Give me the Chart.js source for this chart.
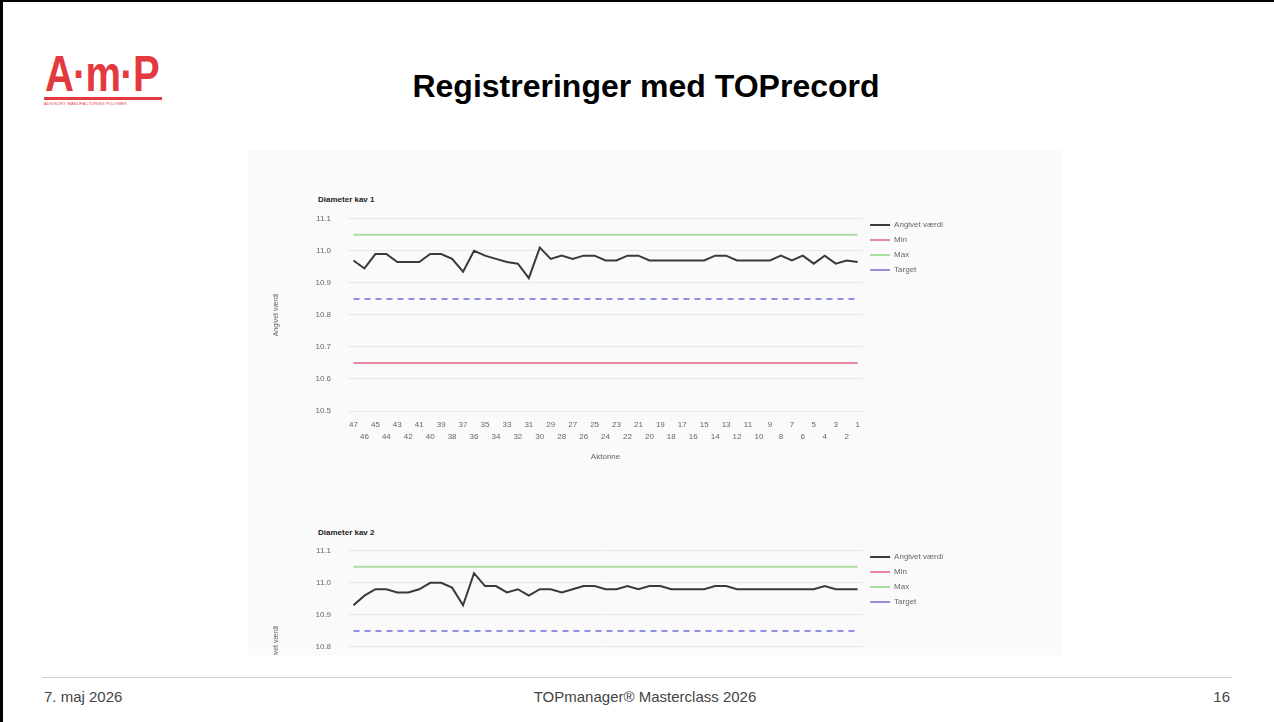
<!DOCTYPE html>
<html>
<head>
<meta charset="utf-8">
<script src="https://cdn.jsdelivr.net/npm/chart.js@4"></script>
<style>
html, body { margin: 0; padding: 0; background: #fff; }
body { width: 1274px; height: 722px; position: relative; overflow: hidden; font-family: "Liberation Sans", Arial, sans-serif; }
.frame { position: absolute; left: 0; top: 0; width: 1274px; height: 722px; border-left: 3px solid #000; border-top: 2px solid #000; box-sizing: border-box; }
.logo { position: absolute; left: 44px; top: 48px; width: 130px; height: 62px; color: #e23a3f; }
.logo .mark { position: absolute; left: 1px; top: 0; font-weight: bold; font-size: 50px; line-height: 52px; letter-spacing: -1px; transform: scaleX(0.8); transform-origin: left top; white-space: nowrap; }
.logo .bar { position: absolute; left: 0; top: 49px; width: 118px; height: 3px; background: #e23a3f; }
.logo .sub { position: absolute; left: 0; top: 53px; font-size: 4px; white-space: nowrap; letter-spacing: 0.2px; }
h1 { position: absolute; left: 0; width: 1292px; top: 68px; margin: 0; text-align: center; font-size: 32px; line-height: 37px; font-weight: bold; color: #000; }
.shot { position: absolute; left: 248px; top: 150px; width: 814px; height: 505px; background: #fafafa; overflow: hidden; }
.ctitle { position: absolute; font-size: 8px; font-weight: bold; color: #222; }
.chartbox { position: absolute; overflow: hidden; }
.foot-line { position: absolute; left: 42px; top: 677px; width: 1190px; height: 1px; background: #cfcfcf; }
.foot { position: absolute; top: 688px; font-size: 15px; color: #444; font-family: "Liberation Sans Narrow", "Liberation Sans", sans-serif; }
</style>
</head>
<body>
<div class="frame"></div>
<div class="logo">
  <div class="mark">A·m·P</div>
  <div class="bar"></div>
  <div class="sub">ADVISORY MANUFACTURING POLYMER</div>
</div>
<h1>Registreringer med TOPrecord</h1>

<div class="shot">
  <div class="ctitle" style="left:70px; top:45px;">Diameter kav 1</div>
  <div class="chartbox" style="left:17px; top:60px; width:700px; height:260px;">
    <canvas id="kav1" width="700" height="260"></canvas>
  </div>
  <div class="ctitle" style="left:70px; top:378px;">Diameter kav 2</div>
  <div class="chartbox" style="left:17px; top:392px; width:700px; height:113px;">
    <canvas id="kav2" width="700" height="260"></canvas>
  </div>
</div>

<div class="foot-line"></div>
<div class="foot" style="left:44px;">7. maj 2026</div>
<div class="foot" style="left:0; width:1290px; text-align:center;">TOPmanager® Masterclass 2026</div>
<div class="foot" style="right:44px;">16</div>

<script>
// x-akse: kolonner (47 ned til 1)
const kolonner = ['47','46','45','44','43','42','41','40','39','38','37','36','35','34','33','32','31','30',
  '29','28','27','26','25','24','23','22','21','20','19','18','17','16','15','14','13','12','11','10',
  '9','8','7','6','5','4','3','2','1'];

// Angivet værdi, kav 1
const kav1Values = [10.97, 10.945, 10.99, 10.99, 10.965, 10.965, 10.965, 10.99, 10.99, 10.975,
  10.935, 11.0, 10.985, 10.975, 10.965, 10.96, 10.915, 11.01, 10.975, 10.985,
  10.975, 10.985, 10.985, 10.97, 10.97, 10.985, 10.985, 10.97, 10.97, 10.97,
  10.97, 10.97, 10.97, 10.985, 10.985, 10.97, 10.97, 10.97, 10.97, 10.985,
  10.97, 10.985, 10.96, 10.985, 10.96, 10.97, 10.965];

// Angivet værdi, kav 2
const kav2Values = [10.93, 10.96, 10.98, 10.98, 10.97, 10.97, 10.98, 11.0, 11.0, 10.985,
  10.93, 11.03, 10.99, 10.99, 10.97, 10.98, 10.96, 10.98, 10.98, 10.97,
  10.98, 10.99, 10.99, 10.98, 10.98, 10.99, 10.98, 10.99, 10.99, 10.98,
  10.98, 10.98, 10.98, 10.99, 10.99, 10.98, 10.98, 10.98, 10.98, 10.98,
  10.98, 10.98, 10.98, 10.99, 10.98, 10.98, 10.98];

// grænser: Min, Max, Target
const limitNames = ['Min', 'Max', 'Target'];
const kav1Limits = [10.65, 11.05, 10.85];
const kav2Limits = [10.65, 11.05, 10.85];

const yMin = 10.5, yMax = 11.1, yStep = 0.1;

Chart.defaults.font.family = '"Liberation Sans", Arial, sans-serif';
Chart.defaults.color = '#666';

const limitStyles = [
  { borderColor: '#e0637f', borderWidth: 1.5, borderDash: [] },
  { borderColor: '#aadda2', borderWidth: 2, borderDash: [] },
  { borderColor: '#6c6cd8', borderWidth: 1.5, borderDash: [6, 5] }
];

function limitLine(value) {
  return [{ x: kolonner[0], y: value }, { x: kolonner[kolonner.length - 1], y: value }];
}

function makeChart(id, values, limits) {
  const datasets = [{
    label: 'Angivet værdi',
    data: values,
    borderColor: '#3a3a3a',
    borderWidth: 2,
    pointRadius: 0,
    tension: 0,
    order: 0
  }];
  limitNames.forEach((name, i) => {
    datasets.push(Object.assign({
      label: name,
      data: limitLine(limits[i]),
      pointRadius: 0,
      order: 1
    }, limitStyles[i]));
  });

  new Chart(document.getElementById(id), {
    type: 'line',
    data: { labels: kolonner, datasets: datasets },
    options: {
      responsive: false,
      animation: false,
      layout: { padding: { top: 4, bottom: 8, left: 0, right: 12 } },
      plugins: {
        tooltip: { enabled: false },
        legend: {
          position: 'right',
          align: 'start',
          labels: {
            usePointStyle: true,
            pointStyle: 'line',
            pointStyleWidth: 20,
            boxHeight: 8,
            padding: 7,
            color: '#666',
            font: { size: 8 }
          }
        }
      },
      scales: {
        x: {
          offset: true,
          grid: { display: false, drawTicks: false },
          border: { display: false },
          afterFit: (s) => { s.height = 51; },
          title: { display: true, text: 'Aktonne', color: '#666', font: { size: 8 }, padding: { top: 4, bottom: 0 } },
          ticks: {
            autoSkip: false,
            maxRotation: 0,
            padding: 7,
            color: '#666',
            font: { size: 8, lineHeight: 1.6 },
            callback: function (val, idx) {
              const lbl = this.getLabelForValue(val);
              return idx % 2 === 0 ? [lbl] : ['', lbl];
            }
          }
        },
        y: {
          min: yMin,
          max: yMax,
          afterFit: (s) => { s.width = 83; },
          grid: { color: '#e8e8e8', drawTicks: true, tickLength: 13, tickColor: 'rgba(0,0,0,0)' },
          border: { display: false },
          title: { display: true, text: 'Angivet værdi', color: '#666', font: { size: 7 }, padding: { top: 7, bottom: 0 } },
          ticks: {
            stepSize: yStep,
            padding: 4,
            color: '#666',
            font: { size: 8 },
            callback: (v) => v.toFixed(1)
          }
        }
      }
    }
  });
}

makeChart('kav1', kav1Values, kav1Limits);
makeChart('kav2', kav2Values, kav2Limits);
</script>
</body>
</html>
